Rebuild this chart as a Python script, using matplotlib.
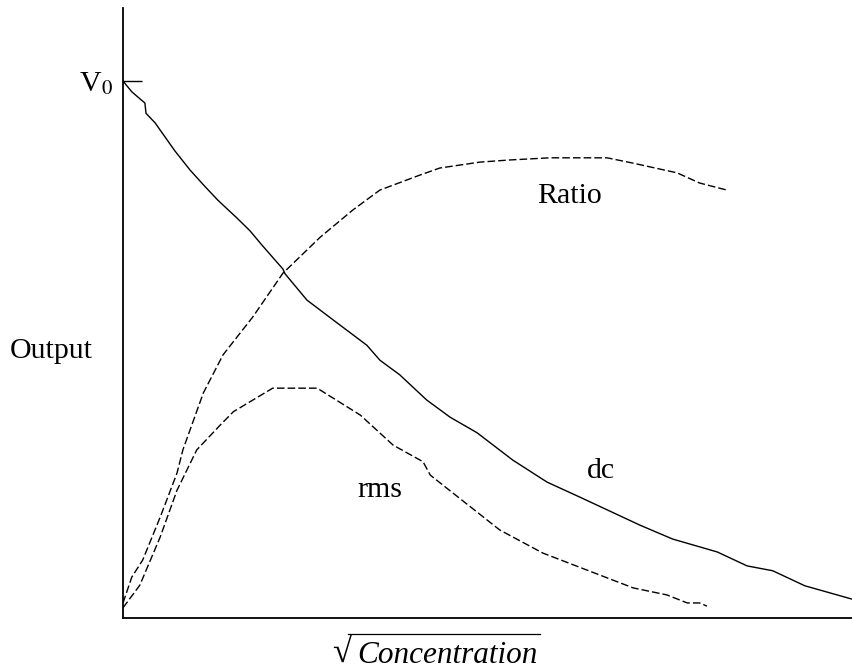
import matplotlib
matplotlib.use('Agg')
from matplotlib import pyplot as plt

plt.rcParams['font.family'] = ['Liberation Serif', 'DejaVu Serif']
plt.rcParams['mathtext.fontset'] = 'stix'

# sqrt(concentration) axis runs 0..10, output scaled so V0 = 1
dc_x = [0.0, 0.12, 0.30, 0.315, 0.44, 0.575, 0.71, 0.92, 1.12, 1.30, 1.56, 1.74, 1.90,
        2.19, 2.22, 2.52, 2.88, 3.34, 3.52, 3.79, 4.16, 4.48, 4.85, 5.34, 5.81, 6.26,
        7.08, 7.53, 8.14, 8.55, 8.90, 9.34, 9.99]
dc_y = [1.0, 0.98, 0.959, 0.940, 0.922, 0.896, 0.870, 0.834, 0.804, 0.778, 0.745, 0.721,
        0.695, 0.650, 0.641, 0.592, 0.555, 0.508, 0.480, 0.453, 0.406, 0.374, 0.345,
        0.294, 0.253, 0.225, 0.173, 0.147, 0.123, 0.097, 0.088, 0.060, 0.035]

rms_x = [0.0, 0.23, 0.51, 0.74, 1.01, 1.33, 1.51, 2.05, 2.66, 3.25, 3.70, 4.11, 4.21,
         5.16, 5.75, 6.36, 6.99, 7.45, 7.73, 7.90, 8.0]
rms_y = [0.019, 0.061, 0.151, 0.238, 0.313, 0.359, 0.384, 0.428, 0.428, 0.378, 0.322,
         0.291, 0.266, 0.164, 0.121, 0.089, 0.056, 0.043, 0.028, 0.028, 0.022]

ratio_x = [0.0, 0.12, 0.27, 0.51, 0.74, 0.82, 1.10, 1.37, 1.78, 2.19, 2.70, 3.15, 3.52,
           4.07, 4.34, 4.89, 5.30, 5.85, 6.63, 6.99, 7.59, 7.90, 8.27]
ratio_y = [0.028, 0.076, 0.108, 0.188, 0.270, 0.313, 0.419, 0.490, 0.561, 0.642, 0.709,
           0.760, 0.797, 0.825, 0.838, 0.849, 0.853, 0.857, 0.857, 0.847, 0.829, 0.810,
           0.797]

fs = 21.5

def px(x):
    return (x - 123) / 73.0

def py(y):
    return (618 - y) / 537.0

fig = plt.figure(figsize=(8.53, 6.71), dpi=100)
ax = fig.add_axes([123/853, 1 - 618/671, 730/853, 610/671])

ax.plot(dc_x, dc_y, color='black', lw=1.0)
ax.plot(rms_x, rms_y, color='black', lw=1.0, dashes=(5.5, 2.2))
ax.plot(ratio_x, ratio_y, color='black', lw=1.0, dashes=(5.5, 2.2))

ax.set_xlim(0, 10)
ax.set_ylim(0, 1.136)
for s in ['top', 'right']:
    ax.spines[s].set_visible(False)
for s in ['left', 'bottom']:
    ax.spines[s].set_linewidth(1.3)

ax.set_xticks([])
ax.set_yticks([1.0])
ax.set_yticklabels([r'V$_0$'], fontsize=fs)
ax.tick_params(axis='y', direction='in', length=14, width=1.0, pad=7)

ax.text(6.12, 0.773, 'Ratio', fontsize=fs, ha='center', va='baseline')
ax.text(6.55, 0.261, 'dc', fontsize=fs, ha='center', va='baseline')
ax.text(3.52, 0.225, 'rms', fontsize=fs, ha='center', va='baseline')
ax.text(-0.41, 0.484, 'Output', fontsize=fs, ha='right', va='baseline', clip_on=False)

# x label: radical sign, italic word and the bar over it
ax.text(px(357), py(663), 'Concentration', fontsize=22.5, style='italic',
        ha='left', va='baseline', clip_on=False)
ax.text(px(351), py(662), '\u221a', fontsize=25, ha='right', va='baseline', clip_on=False)
ax.plot([px(348), px(540)], [py(634), py(634)], color='black', lw=0.9, clip_on=False)

plt.savefig('out.png', dpi=100)
